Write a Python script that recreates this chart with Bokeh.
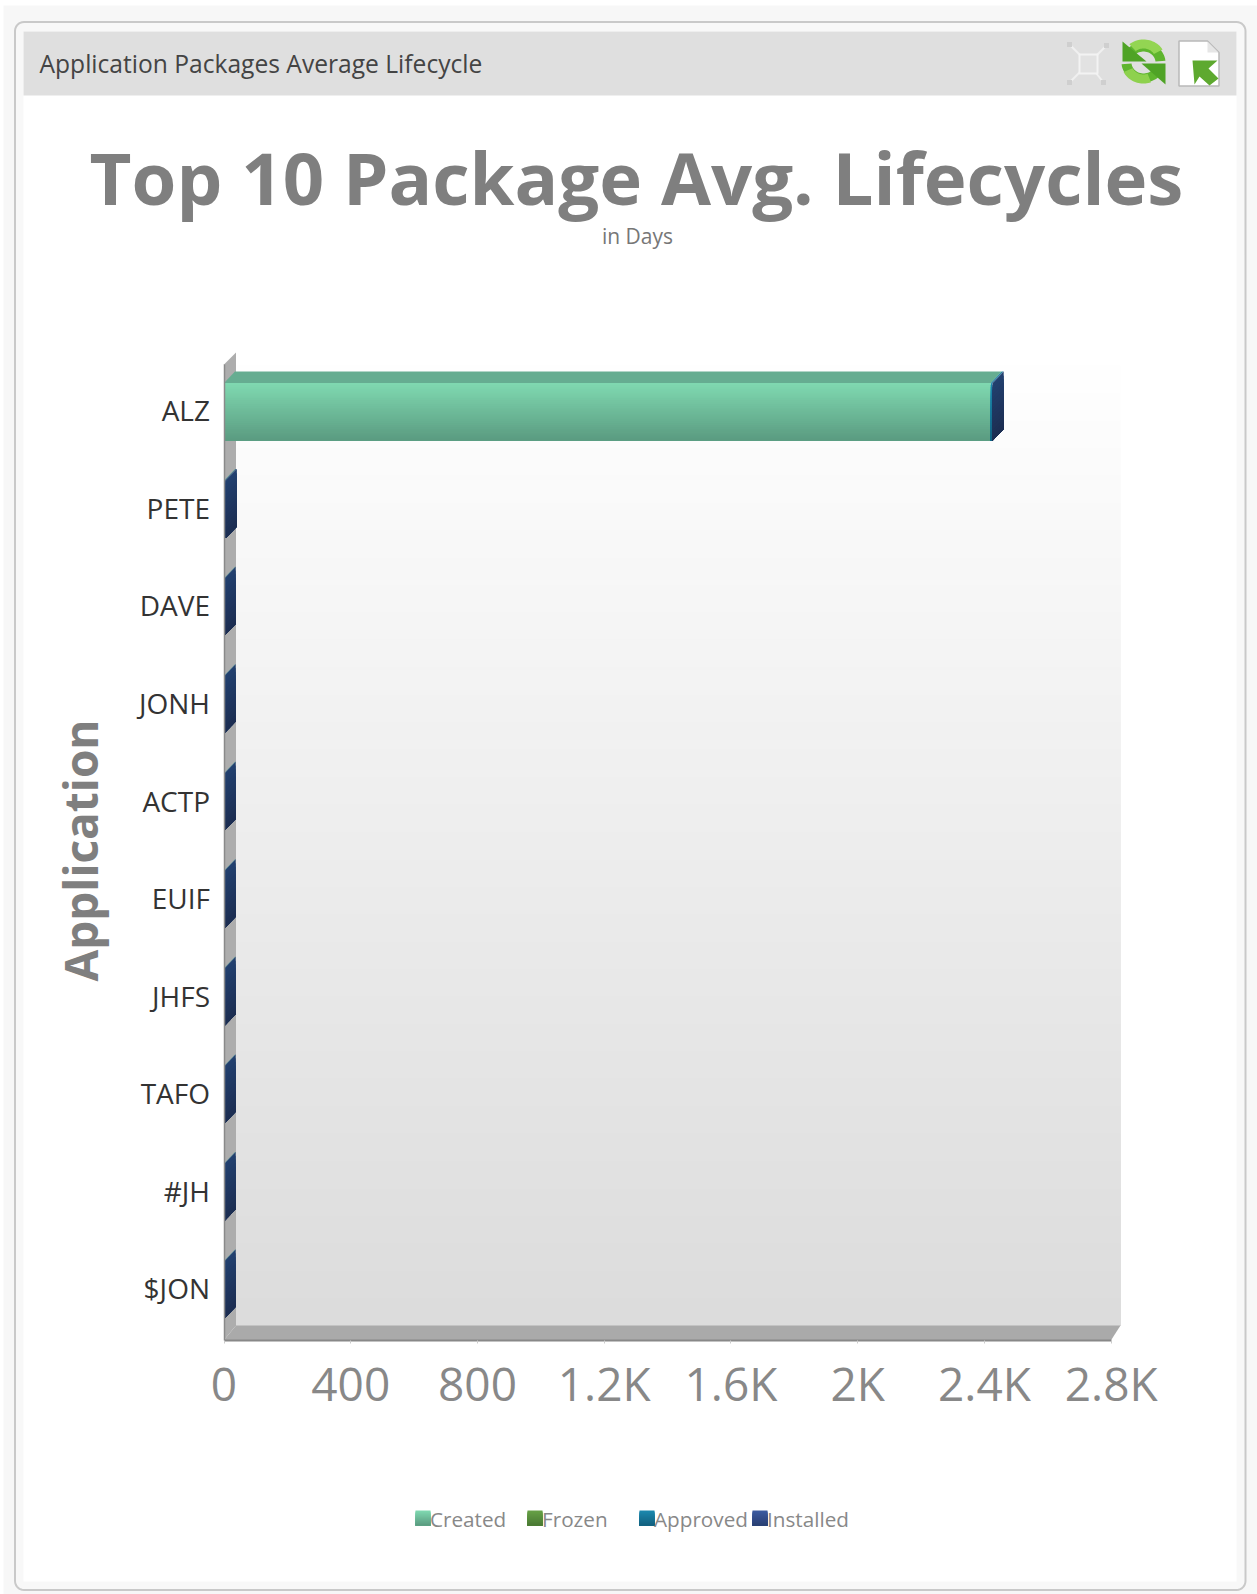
import numpy as np
from bokeh.core.properties import value
from bokeh.embed import file_html
from bokeh.models import FixedTicker, LinearAxis, Range1d
from bokeh.plotting import figure
from bokeh.resources import INLINE

# Chart content
applications = ["ALZ", "PETE", "DAVE", "JONH", "ACTP", "EUIF", "JHFS", "TAFO", "#JH", "$JON"]
created = [2420, 2, 1, 1, 1, 1, 1, 1, 1, 1]
frozen = [0, 0, 0, 0, 0, 0, 0, 0, 0, 0]
approved = [5, 1, 1, 1, 1, 1, 1, 1, 1, 1]
installed = [1, 3, 0, 0, 0, 0, 0, 0, 0, 0]
x_ticks = [0, 400, 800, 1200, 1600, 2000, 2400, 2800]
x_tick_labels = ["0", "400", "800", "1.2K", "1.6K", "2K", "2.4K", "2.8K"]
legend_names = ["Created", "Frozen", "Approved", "Installed"]

W, H = 1257, 1594
X0, X1 = 223.5, 1110.7      # pixel columns of 0 and 2800
Y0, Y10 = 1339.5, 364.0     # pixel rows of the axis ends
X_PER_PX = 2800 / (X1 - X0)
Y_PER_PX = 10 / (Y0 - Y10)
DEPTH = 12
BAR_DEPTH = 11
BAND_SHIFT = 1.8 * Y_PER_PX  # bands sit slightly above the even division of the axis


def dx(px):
    return (np.asarray(px, dtype=float) - X0) * X_PER_PX


def dy(py):
    return (Y0 - np.asarray(py, dtype=float)) * Y_PER_PX


p = figure(
    width=W, height=H, output_backend="svg", toolbar_location=None,
    x_range=Range1d(float(dx(0)), float(dx(W))), y_range=Range1d(float(dy(H)), float(dy(0))),
    min_border=0, outline_line_color=None, background_fill_color="white",
    border_fill_color="white", x_axis_type=None, y_axis_type=None,
)
p.grid.visible = False


def lerp(c0, c1, t):
    a, b = np.array(c0), np.array(c1)
    r, g, bl = (a + (b - a) * t).round().astype(int)
    return f"#{r:02x}{g:02x}{bl:02x}"


def hexrgb(s):
    return [int(s[i:i + 2], 16) for i in (1, 3, 5)]


def shade(left, right, top, bottom, c0, c1, steps):
    # Vertical gradient: overlapping boxes painted top to bottom, so no seams show.
    rows = np.linspace(top, bottom, steps, endpoint=False)
    colors = [lerp(hexrgb(c0), hexrgb(c1), i / (steps - 1)) for i in range(steps)]
    p.quad(left=left, right=right, top=rows, bottom=bottom, fill_color=colors, line_color=None)


def poly(xs, ys, color, line=None, width=1):
    p.patch(dx(xs), dy(ys), fill_color=color, line_color=line, line_width=width)


def rounded(x0, y0, x1, y1, r):
    t = np.linspace(0, np.pi / 2, 8)
    xs = np.r_[x1 - r + r * np.sin(t), x1 - r + r * np.cos(t), x0 + r - r * np.sin(t), x0 + r - r * np.cos(t)]
    ys = np.r_[y0 + r - r * np.cos(t), y1 - r + r * np.sin(t), y1 - r + r * np.cos(t), y0 + r - r * np.sin(t)]
    return xs, ys


def px_text(x, y, s, size, color, font="Open Sans", style="normal", align="left", angle=0):
    p.text(x=[float(dx(x))], y=[float(dy(y))], text=[s], text_font=value(font),
           text_font_size=f"{size}px", text_font_style=style, text_color=color,
           text_align=align, text_baseline="middle", angle=angle)


# Panel chrome
poly([3, W, W, 3], [5, 5, H, H], "#f7f7f7")
xs, ys = rounded(14.5, 21.5, 1245, 1589.5, 9)
poly(xs, ys, "#f8f8f8", line="#c9c9c9", width=2)
poly([23, 1236, 1236, 23], [31, 31, 1581, 1581], "#ffffff")
poly([23, 1236, 1236, 23], [31, 31, 95, 95], "#dfdfdf")
px_text(39, 62.5, "Application Packages Average Lifecycle", 24.6, "#444444")

# Fit-to-window icon
for cx, cy in [(1069, 44), (1106, 45), (1069, 82), (1103, 82)]:
    p.line(dx([cx, 1088]), dy([cy, 63]), line_color="#f0f0f0", line_width=2)
    poly([cx - 2.5, cx + 2.5, cx + 2.5, cx - 2.5], [cy - 2.5, cy - 2.5, cy + 2.5, cy + 2.5], "#cfcfcf")
poly([1079, 1097, 1097, 1079], [54, 54, 73, 73], "#e2e2e2", line="#f3f3f3", width=2)

# Refresh icon
def arc(a0, a1, cx=1143, cy=62):
    t = np.radians(np.linspace(a0, a1, 24))
    xs = np.r_[cx + 22 * np.cos(t), cx + 12 * np.cos(t[::-1])]
    ys = np.r_[cy - 20 * np.sin(t), cy - 11 * np.sin(t[::-1])]
    return xs, ys


for a0, a1 in [(5, 150), (185, 330)]:
    xs, ys = arc(a0, a1)
    poly(xs, ys, "#5fb52f")
poly([1122, 1146, 1122], [41, 61, 61], "#4fa326")
poly([1165, 1141, 1165], [84, 63, 63], "#4fa326")
xs, ys = arc(30, 130)
poly(xs, ys - 3, "#93d552")
xs, ys = arc(205, 290)
poly(xs, ys + 1, "#8ed14e")

# Export icon
poly([1178.5, 1207, 1218.5, 1218.5, 1178.5], [40.5, 40.5, 52, 85.5, 85.5], "#ffffff", line="#b9b9b9", width=1.5)
poly([1207, 1218, 1207], [41, 52, 52], "#e6e6e6")
poly([1192, 1217, 1208, 1218, 1209, 1199, 1194], [60, 60, 68, 78, 85, 76, 84], "#5ea92f")

# Titles
px_text(636, 176, "Top 10 Package Avg. Lifecycles", 72.5, "#7f7f7f", style="bold", align="center")
px_text(637, 235, "in Days", 21, "#777777", align="center")
px_text(79, 850, "Application", 46, "#7f7f7f", style="bold", align="center", angle=np.pi / 2)

# Box walls and floor
WALL_TOP = 365
FLOOR_TOP = 1325
shade(float(dx(X0 + DEPTH)), float(dx(1120)), float(dy(WALL_TOP)), float(dy(FLOOR_TOP)), "#fefefe", "#dcdcdc", 35)
poly([X0, X0 + DEPTH, X0 + DEPTH, X0], [364, 352, FLOOR_TOP, Y0], "#adadad")
poly([X0, X0 + DEPTH, 1120, X1], [Y0, FLOOR_TOP, FLOOR_TOP, Y0], "#aaaaaa")

# Stacked bars with a faux-3D top and end face
styles = [
    ("#7fd8b0", "#5b9c81", "#66ad91"),
    ("#66a046", "#4a7a34", "#5c9040"),
    ("#1b88ae", "#12617f", "#1b7ea2"),
    ("#22406f", "#1c2d50", "#2a4a7a"),
]
BAR = 0.588
dxd = BAR_DEPTH * X_PER_PX
dyd = 11.5 * Y_PER_PX
series = [created, frozen, approved, installed]
for i in range(len(applications)):
    center = len(applications) - 0.5 - i + BAND_SHIFT * 0.85
    hi, lo = center + BAR / 2, center - BAR / 2
    start = 0
    for vals, (c0, c1, ctop) in zip(series, styles):
        v = vals[i]
        if v <= 0:
            continue
        p.patch([start, start + v, start + v + dxd, start + dxd], [hi, hi, hi + dyd, hi + dyd],
                fill_color=ctop, line_color=None)
        shade(start, start + v, hi, lo, c0, c1, 30)
        start += v
    # End face is a stack of shrinking parallelograms carrying the gradient.
    steps = 16
    for k in range(steps):
        t = k / steps
        y_top = hi - (hi - lo) * t
        p.patch([start, start + dxd, start + dxd, start], [y_top, y_top + dyd, lo + dyd, lo],
                fill_color=lerp(hexrgb("#22406f"), hexrgb("#1c2d50"), t), line_color=None)

# Axes sit at fixed data positions inside the panel
xaxis = LinearAxis(fixed_location=0, ticker=FixedTicker(ticks=x_ticks),
                   major_label_overrides=dict(zip(x_ticks, x_tick_labels)), bounds=(0, 2800))
xaxis.axis_line_color = "#888888"
xaxis.axis_line_width = 2
xaxis.major_tick_line_color = "#cccccc"
xaxis.major_tick_in = 0
xaxis.major_tick_out = 3
xaxis.minor_tick_line_color = None
xaxis.major_label_standoff = 9
xaxis.major_label_text_font = "Open Sans"
xaxis.major_label_text_font_size = "46px"
xaxis.major_label_text_color = "#888888"
p.add_layout(xaxis, "below")

band_centers = [len(applications) - 0.5 - i + BAND_SHIFT * 1.6 for i in range(len(applications))]
yaxis = LinearAxis(fixed_location=0, ticker=FixedTicker(ticks=band_centers),
                   major_label_overrides=dict(zip(band_centers, applications)), bounds=(0, 10))
yaxis.axis_line_color = "#8a8a8a"
yaxis.axis_line_width = 1.5
yaxis.major_tick_line_color = None
yaxis.minor_tick_line_color = None
yaxis.major_label_standoff = 8
yaxis.major_label_text_font = "Open Sans"
yaxis.major_label_text_font_size = "28px"
yaxis.major_label_text_color = "#333333"
p.add_layout(yaxis, "left")

# Legend
swatches = [("#7fd8b0", "#5b9c81"), ("#66a046", "#4a7a34"), ("#1b88ae", "#12617f"), ("#3c5aa0", "#2a4074")]
for name, (c0, c1), left in zip(legend_names, swatches, [415, 527, 639, 752]):
    shade(float(dx(left)), float(dx(left + 15)), float(dy(1510)), float(dy(1525)), c0, c1, 15)
    px_text(left + 14.5, 1518, name, 20.7, "#888888")

open("out.html", "w").write(file_html(p, INLINE))
